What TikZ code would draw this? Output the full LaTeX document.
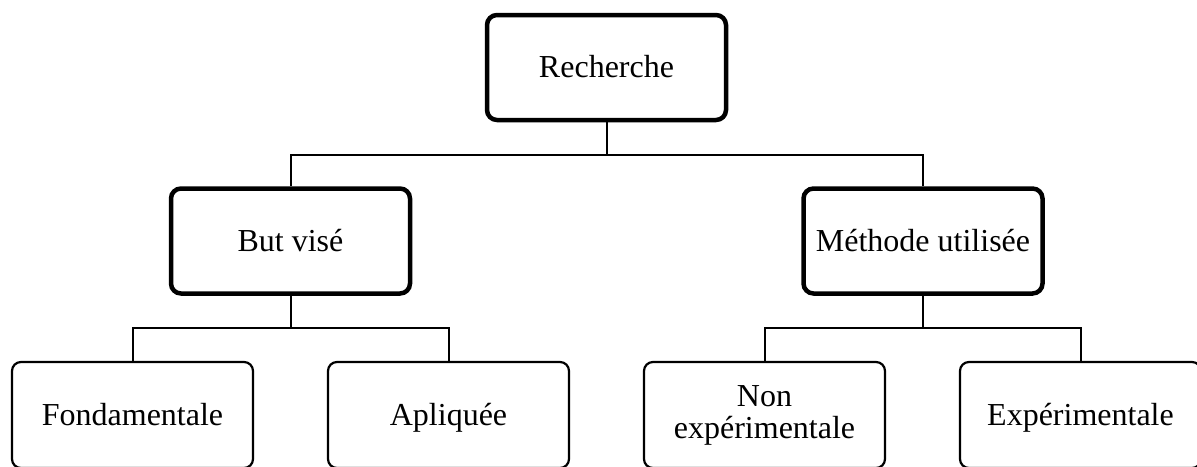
\documentclass[tikz,border=0pt]{standalone}
\usepackage{fontspec}
\setmainfont{Liberation Serif}
\begin{document}
\begin{tikzpicture}[x=1pt,y=-1pt,
  every node/.style={font=\fontsize{32}{32}\selectfont},
  oneline/.style={text height=24pt, text depth=4pt},
  mainbox/.style={draw, line width=4.5pt, rounded corners=10pt, align=center, inner sep=0pt, minimum width=239pt, minimum height=105pt, oneline},
  leafbox/.style={draw, line width=2.2pt, rounded corners=9pt, align=center, inner sep=0pt, minimum width=241pt, minimum height=106pt},
  link/.style={line width=2pt}]
\useasboundingbox (0,0) rectangle (1197,466);
\node[mainbox] (rech) at (606.5,67.5) {Recherche};
\node[mainbox] (but) at (290.5,241) {But visé};
\node[mainbox] (meth) at (923,241) {Méthode utilisée};
\node[leafbox, oneline] (fond) at (132.5,415) {Fondamentale};
\node[leafbox, oneline] (apl) at (448.5,415) {Apliquée};
\node[leafbox] (nonexp) at (764.5,415) {Non\\expérimentale};
\node[leafbox, oneline] (exp) at (1080.5,415) {Expérimentale};
\coordinate (j1) at (606.5,154.5);
\coordinate (j2) at (290.5,328);
\coordinate (j3) at (923,328);
\draw[link] (rech.south) -- (j1);
\draw[link] (but.north) |- (j1) -| (meth.north);
\draw[link] (but.south) -- (j2);
\draw[link] (fond.north) |- (j2) -| (apl.north);
\draw[link] (meth.south) -- (j3);
\draw[link] (nonexp.north) |- (j3) -| (exp.north);
\end{tikzpicture}
\end{document}
